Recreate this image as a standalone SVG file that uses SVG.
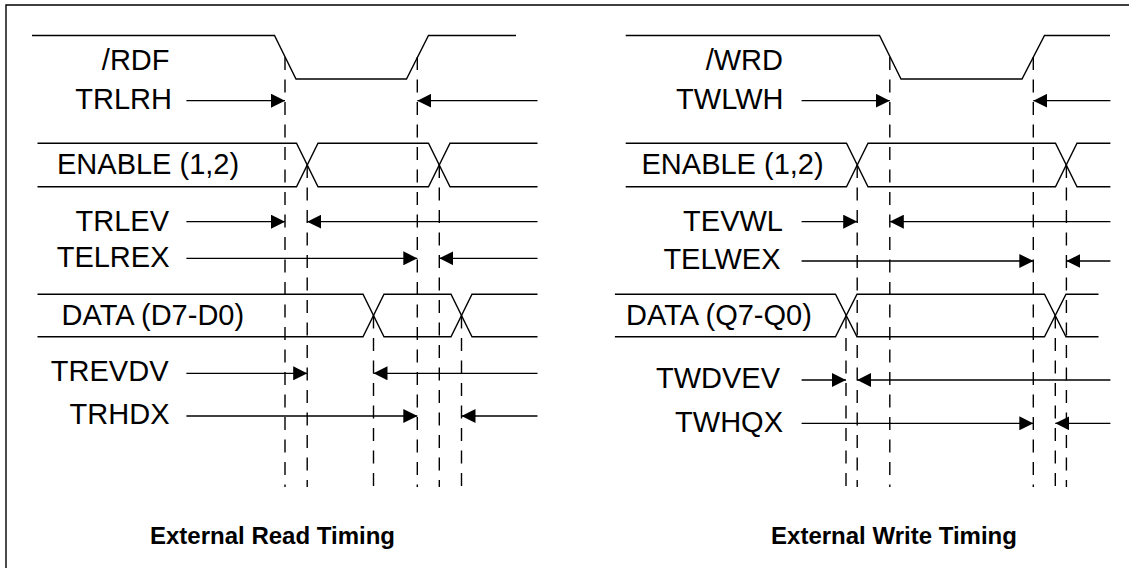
<svg xmlns="http://www.w3.org/2000/svg" width="1133" height="568" viewBox="0 0 1133 568">
<style>
.sig{fill:none;stroke:#000;stroke-width:1.4;stroke-linejoin:miter}
.dash{fill:none;stroke:#000;stroke-width:1.4;stroke-dasharray:13 9.5}
.arr{fill:none;stroke:#000;stroke-width:1.3;marker-end:url(#ah)}
.lbl{font-family:"Liberation Sans",Arial,sans-serif;font-size:29px;fill:#000}
.end{text-anchor:end}
.ttl{font-family:"Liberation Sans",Arial,sans-serif;font-size:24px;font-weight:bold;text-anchor:middle;fill:#000}
.frame{fill:none;stroke:#000;stroke-width:1.4}
</style>
<defs>
<marker id="ah" markerUnits="userSpaceOnUse" viewBox="0 0 14 14" refX="14" refY="7" markerWidth="14" markerHeight="14" orient="auto">
<path d="M0,0 L14,7 L0,14 z" fill="#000"/>
</marker>
</defs>
<rect width="1133" height="568" fill="#fff"/>
<path class="frame" d="M6,568 V5 H1129"/>

<g id="read-rdf">
<path class="sig" d="M32,35.5 H274.5 L296,79 H406.5 L428.5,35.5 H516"/>
<text class="lbl end" x="169.5" y="70">/RDF</text>
</g>
<g id="read-enable">
<path class="sig" d="M37.5,143.3 H296.5 L318,186.7 H428.5 L450,143.3 H537.5"/>
<path class="sig" d="M37.5,186.7 H296.5 L318,143.3 H428.5 L450,186.7 H537.5"/>
<text class="lbl" x="57" y="174">ENABLE (1,2)</text>
</g>
<g id="read-data">
<path class="sig" d="M37.5,294.3 H363 L384,336.7 H451 L472,294.3 H537.5"/>
<path class="sig" d="M37.5,336.7 H363 L384,294.3 H451 L472,336.7 H537.5"/>
<text class="lbl" x="61.5" y="325">DATA (D7-D0)</text>
</g>
<g id="read-trlrh"><text class="lbl end" x="172" y="109.3">TRLRH</text></g>
<g id="read-trlev"><text class="lbl end" x="169" y="230.7">TRLEV</text></g>
<g id="read-telrex"><text class="lbl end" x="169.5" y="266.7">TELREX</text></g>
<g id="read-trevdv"><text class="lbl end" x="168.5" y="380.7">TREVDV</text></g>
<g id="read-trhdx"><text class="lbl end" x="169.5" y="424">TRHDX</text></g>
<g id="read-title"><text class="ttl" x="272.5" y="544">External Read Timing</text></g>

<g id="write-wrd">
<path class="sig" d="M625.7,35.5 H879.5 L901,79 H1022 L1044.5,35.5 H1110"/>
<text class="lbl end" x="783" y="70">/WRD</text>
</g>
<g id="write-enable">
<path class="sig" d="M625.7,143.3 H846.5 L868,186.7 H1055.5 L1077,143.3 H1110.4"/>
<path class="sig" d="M625.7,186.7 H846.5 L868,143.3 H1055.5 L1077,186.7 H1110.4"/>
<text class="lbl" x="641.5" y="174">ENABLE (1,2)</text>
</g>
<g id="write-data">
<path class="sig" d="M614.9,294.3 H835.5 L857,336.7 H1044.5 L1066,294.3 H1098.5"/>
<path class="sig" d="M614.9,336.7 H835.5 L857,294.3 H1044.5 L1066,336.7 H1098.5"/>
<text class="lbl" x="626" y="325">DATA (Q7-Q0)</text>
</g>
<g id="write-twlwh"><text class="lbl end" x="783.5" y="109.3">TWLWH</text></g>
<g id="write-tevwl"><text class="lbl end" x="783" y="230.7">TEVWL</text></g>
<g id="write-telwex"><text class="lbl end" x="780.5" y="269.3">TELWEX</text></g>
<g id="write-twdvev"><text class="lbl end" x="780" y="388.3">TWDVEV</text></g>
<g id="write-twhqx"><text class="lbl end" x="783" y="431.7">TWHQX</text></g>
<g id="write-title"><text class="ttl" x="894" y="544">External Write Timing</text></g>

<g id="guides">
<path class="dash" d="M285,57 V487"/>
<path class="dash" d="M307.2,165 V487"/>
<path class="dash" d="M373.5,315.5 V487"/>
<path class="dash" d="M417.3,57 V487"/>
<path class="dash" d="M439.3,165 V487"/>
<path class="dash" d="M461.5,315.5 V487"/>
<path class="dash" d="M846,315.5 V487"/>
<path class="dash" d="M857.2,165 V487"/>
<path class="dash" d="M889.8,57 V487"/>
<path class="dash" d="M1033.3,57 V487"/>
<path class="dash" d="M1055.3,315.5 V487"/>
<path class="dash" d="M1066.4,165 V487"/>
</g>

<g id="connectors">
<path class="arr" d="M186.4,100.7 H285"/>
<path class="arr" d="M537.5,100.7 H417.3"/>
<path class="arr" d="M186.4,221.7 H285"/>
<path class="arr" d="M537.5,221.7 H307.2"/>
<path class="arr" d="M186.4,258.3 H417.3"/>
<path class="arr" d="M537.5,258.3 H439.3"/>
<path class="arr" d="M186.4,373.3 H307.2"/>
<path class="arr" d="M537.5,373.3 H373.5"/>
<path class="arr" d="M186.4,416 H417.3"/>
<path class="arr" d="M537.5,416 H461.5"/>
<path class="arr" d="M801.6,100.7 H889.8"/>
<path class="arr" d="M1110.4,100.7 H1033.3"/>
<path class="arr" d="M801.6,221.7 H857.2"/>
<path class="arr" d="M1110.4,221.7 H889.8"/>
<path class="arr" d="M801.6,261 H1033.3"/>
<path class="arr" d="M1110.4,261 H1066.4"/>
<path class="arr" d="M801.6,380 H846"/>
<path class="arr" d="M1110.4,380 H857.2"/>
<path class="arr" d="M801.6,423.3 H1033.3"/>
<path class="arr" d="M1110.4,423.3 H1055.3"/>
</g>
</svg>
